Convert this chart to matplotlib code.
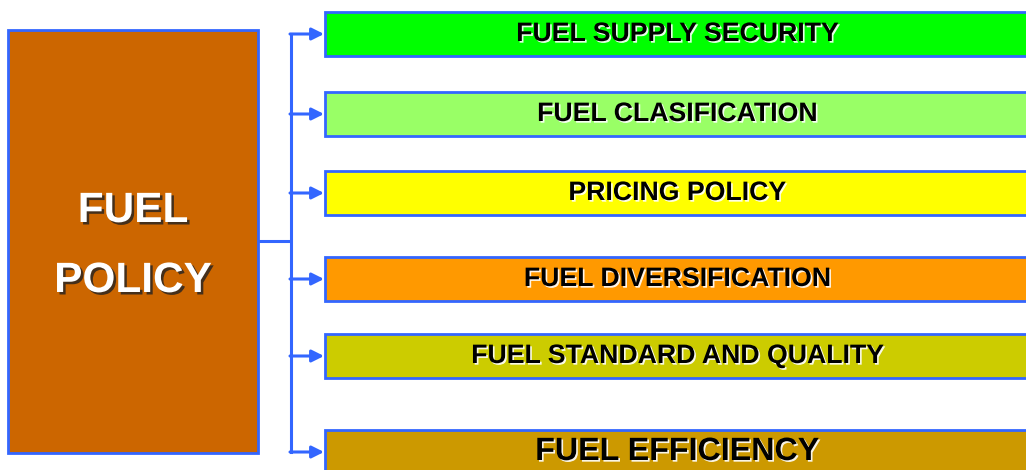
import matplotlib.pyplot as plt
import matplotlib.patheffects as pe
from matplotlib.patches import Rectangle

# policy items, top to bottom
labels = ["FUEL SUPPLY SECURITY", "FUEL CLASIFICATION", "PRICING POLICY",
          "FUEL DIVERSIFICATION", "FUEL STANDARD AND QUALITY", "FUEL EFFICIENCY"]
colors = ["#00FF00", "#99FF66", "#FFFF00", "#FF9900", "#CCCC00", "#CC9900"]
box_tops = [12, 92, 171, 257, 334, 430]
font_sizes = [19.2, 19.2, 19.2, 19.2, 19.2, 23.2]

main_words = ["FUEL", "POLICY"]
main_color = "#CC6600"
edge = "#3366FF"

fig = plt.figure(figsize=(10.26, 4.70), dpi=100)
ax = fig.add_axes([0, 0, 1, 1])
ax.set_xlim(0, 1026)
ax.set_ylim(470, 0)
ax.axis("off")

# main box
ax.add_patch(Rectangle((8, 30), 250, 423, facecolor=main_color, edgecolor=edge, lw=2))
for word, y in zip(main_words, [211, 281]):
    ax.text(133, y, word, ha="center", va="center", fontsize=30.5, fontweight="bold",
            family="Liberation Sans", color="white",
            path_effects=[pe.withSimplePatchShadow(offset=(1.8, -1.8), shadow_rgbFace="#222222", alpha=0.8)])

# connector lines
bh = 44
mids = [t + bh / 2 for t in box_tops]
ax.plot([258, 291], [241, 241], color=edge, lw=2.2, solid_capstyle="butt")
ax.plot([291, 291], [mids[0], mids[-1]], color=edge, lw=2.2)

for top, mid, lab, col, fs in zip(box_tops, mids, labels, colors, font_sizes):
    ax.add_patch(Rectangle((325, top), 705, bh, facecolor=col, edgecolor=edge, lw=2))
    ax.annotate("", xy=(324, mid), xytext=(290, mid),
                arrowprops=dict(arrowstyle="-|>", color=edge, lw=2.2,
                                mutation_scale=18, shrinkA=0, shrinkB=0))
    ax.text(677, mid, lab, ha="center", va="center", fontsize=fs, fontweight="bold",
            family="Liberation Sans", color="black",
            path_effects=[pe.withSimplePatchShadow(offset=(1.2, -1.2), shadow_rgbFace="white", alpha=0.9)])

fig.savefig("out.png", dpi=100)
